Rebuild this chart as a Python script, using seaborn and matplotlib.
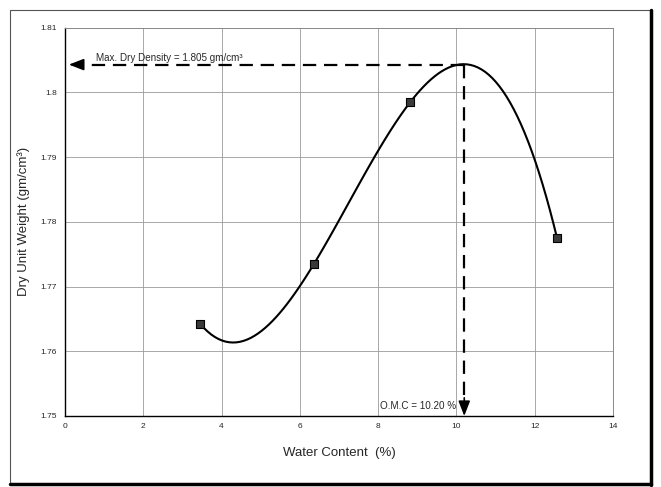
import matplotlib
matplotlib.use("Agg")
import matplotlib.pyplot as plt
import seaborn as sns
import pandas as pd
from matplotlib.lines import Line2D

# ---- data ----
water_content = [3.46, 6.36, 8.82, 12.57]
dry_unit_weight = [1.7642, 1.7735, 1.7985, 1.7775]
omc = 10.20
max_dry_density_level = 1.8043
x_ticks = [0, 2, 4, 6, 8, 10, 12, 14]
y_ticks = [1.75, 1.76, 1.77, 1.78, 1.79, 1.80, 1.81]
y_tick_labels = ["1.75", "1.76", "1.77", "1.78", "1.79", "1.8", "1.81"]
mdd_text = "Max. Dry Density = 1.805 gm/cm³"
omc_text = "O.M.C = 10.20 %"
x_label = "Water Content  (%)"
y_label = "Dry Unit Weight (gm/cm³)"

df = pd.DataFrame({"w": water_content, "gd": dry_unit_weight})

sns.set_style("white")
fam = ["Liberation Sans Narrow", "Liberation Sans", "DejaVu Sans"]
plt.rcParams["font.family"] = fam

fig = plt.figure(figsize=(6.61, 4.87), dpi=100)
ax = fig.add_axes([0.0983, 0.1458, 0.8291, 0.7973])

# polynomial trendline through the points
sns.regplot(data=df, x="w", y="gd", order=3, ci=None, scatter=False,
            truncate=True, ax=ax, line_kws=dict(color="black", lw=1.5))
sns.scatterplot(data=df, x="w", y="gd", marker="s", s=26, color="#3a3a3a",
                edgecolor="black", linewidth=0.8, ax=ax, zorder=5)

# dashed guide lines
dash = (0, (6, 3.5))
ax.plot([omc, 0.55], [max_dry_density_level, max_dry_density_level],
        ls=dash, color="black", lw=1.6)
ax.plot([omc, omc], [max_dry_density_level, 1.7525],
        ls=dash, color="black", lw=1.6)
ax.annotate("", xy=(0.1, max_dry_density_level), xytext=(0.45, max_dry_density_level),
            arrowprops=dict(arrowstyle="-|>,head_length=0.9,head_width=0.35",
                            color="black", lw=1.2, shrinkA=0, shrinkB=0))
ax.annotate("", xy=(omc, 1.75), xytext=(omc, 1.7528),
            arrowprops=dict(arrowstyle="-|>,head_length=0.9,head_width=0.35",
                            color="black", lw=1.2, shrinkA=0, shrinkB=0))

ax.text(0.78, max_dry_density_level + 0.0003, mdd_text, fontsize=7.1,
        ha="left", va="bottom", family=fam)
ax.text(omc - 0.2, 1.7508, omc_text, fontsize=7.1, ha="right", va="bottom",
        family=fam)

ax.set_xlim(0, 14)
ax.set_ylim(1.75, 1.81)
ax.set_xticks(x_ticks)
ax.set_xticklabels([str(t) for t in x_ticks], fontsize=6)
ax.set_yticks(y_ticks)
ax.set_yticklabels(y_tick_labels, fontsize=6)
ax.grid(True, color="#9a9a9a", lw=0.6)
ax.tick_params(axis="both", length=3, width=0.8, color="black", pad=3)
ax.tick_params(axis="x", direction="inout", length=4)
ax.tick_params(axis="y", direction="out")

ax.set_xlabel(x_label, fontsize=9.5, labelpad=12, family=fam)
ax.set_ylabel(y_label, fontsize=9.5, labelpad=7, family=fam)

for s in ["left", "bottom"]:
    ax.spines[s].set_color("black")
    ax.spines[s].set_linewidth(1.0)
for s in ["top", "right"]:
    ax.spines[s].set_color("#8a8a8a")
    ax.spines[s].set_linewidth(0.7)

# outer chart border (thin left/top, heavy right/bottom)
x0, x1 = 10 / 661, 651 / 661
y0, y1 = 1 - 485 / 487, 1 - 10 / 487
fig.add_artist(Line2D([x0, x1], [y1, y1], transform=fig.transFigure, color="#555555", lw=0.8))
fig.add_artist(Line2D([x0, x0], [y0, y1], transform=fig.transFigure, color="#555555", lw=0.8))
fig.add_artist(Line2D([x1, x1], [y0, y1], transform=fig.transFigure, color="black", lw=2.5))
fig.add_artist(Line2D([x0, x1], [y0 + 0.002, y0 + 0.002], transform=fig.transFigure, color="black", lw=2.5))

fig.savefig("out.png", dpi=100)
